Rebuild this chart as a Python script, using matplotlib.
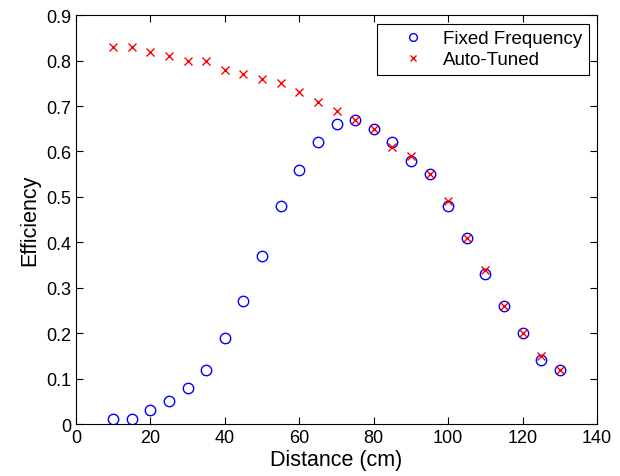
import matplotlib
matplotlib.use('Agg')
import matplotlib.pyplot as plt

distance = [10, 15, 20, 25, 30, 35, 40, 45, 50, 55, 60, 65, 70,
            75, 80, 85, 90, 95, 100, 105, 110, 115, 120, 125, 130]
fixed_freq = [0.01, 0.01, 0.03, 0.05, 0.08, 0.12, 0.19, 0.27, 0.37, 0.48, 0.56, 0.62, 0.66,
              0.67, 0.65, 0.62, 0.58, 0.55, 0.48, 0.41, 0.33, 0.26, 0.20, 0.14, 0.12]
auto_tuned = [0.83, 0.83, 0.82, 0.81, 0.80, 0.80, 0.78, 0.77, 0.76, 0.75, 0.73, 0.71, 0.69,
              0.67, 0.65, 0.61, 0.59, 0.55, 0.49, 0.41, 0.34, 0.26, 0.20, 0.15, 0.12]

plt.rcParams['font.family'] = ['Liberation Sans', 'DejaVu Sans']

fig = plt.figure(figsize=(6.2, 4.77), dpi=100)
ax = fig.add_axes([0.1226, 0.109, 0.8404, 0.857])

ax.plot(distance, fixed_freq, 'o', color='blue', markerfacecolor='none',
        markersize=7.5, markeredgewidth=1.0, label='Fixed Frequency')
ax.plot(distance, auto_tuned, 'x', color='red',
        markersize=6, markeredgewidth=1.0, label='Auto-Tuned')

ax.set_xlim(0, 140)
ax.set_ylim(0, 0.9)
ax.set_xticks(range(0, 141, 20))
ax.set_yticks([i / 10 for i in range(10)])
ax.set_yticklabels(['0'] + ['%.1f' % (i / 10) for i in range(1, 10)])
ax.tick_params(direction='in', top=True, right=True, labelsize=13, length=5)
ax.set_xlabel('Distance (cm)', fontsize=15.5, labelpad=2)
ax.set_ylabel('Efficiency', fontsize=15.5)

leg = ax.legend(loc='upper right', fontsize=13.5, fancybox=False, edgecolor='black',
                framealpha=1, borderaxespad=0.45, borderpad=0.35, handlelength=3.1,
                handletextpad=0.05, labelspacing=0.2, markerscale=0.75)
leg.get_frame().set_linewidth(0.8)

fig.savefig('out.png', dpi=100)
